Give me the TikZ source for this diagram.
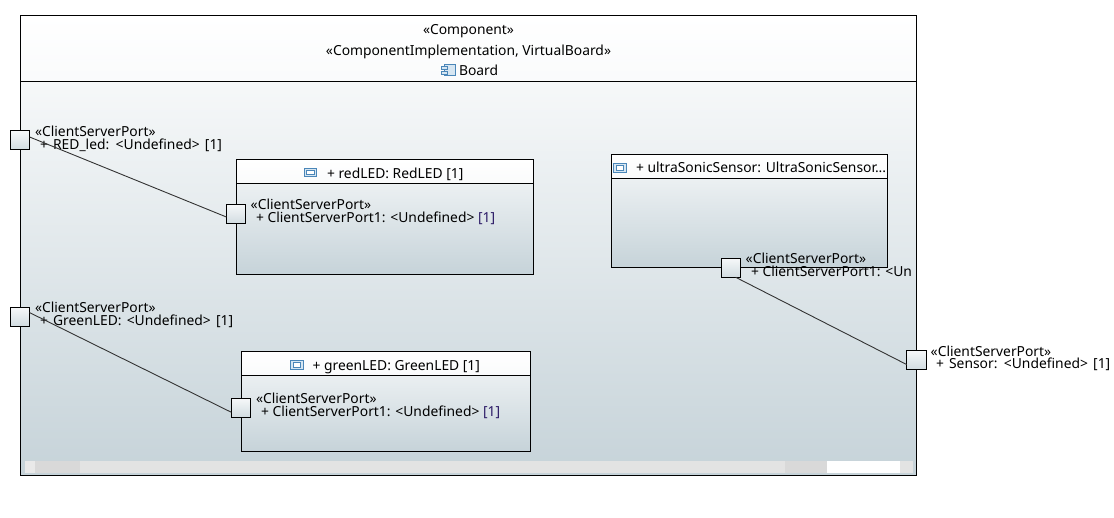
\documentclass[tikz,border=0pt]{standalone}
\usepackage{fontspec}
\setmainfont{Noto Sans}
\definecolor{ink}{HTML}{000000}
\definecolor{wire}{HTML}{333333}
\definecolor{shadeend}{HTML}{C6D3D9}
\definecolor{shadestart}{HTML}{F6F8F9}
\definecolor{iconblue}{HTML}{4A86B8}
\definecolor{iconfill}{HTML}{D6E6F2}
\definecolor{multcolor}{HTML}{2B1A66}
\definecolor{trackmid}{HTML}{E3E3E3}
\definecolor{trackend}{HTML}{E9E9E9}
\definecolor{trackdark}{HTML}{D9D9D9}
\tikzset{
  diagramtext/.style={font=\fontsize{13.85}{15}\selectfont, text=ink, inner sep=0pt, outer sep=0pt},
  lbl/.style={diagramtext, anchor=base west},
  ctr/.style={diagramtext, anchor=base},
  partbox/.style={draw=ink, line width=0.9pt, rectangle, inner sep=0pt, outer sep=0pt,
    anchor=north west, top color=shadestart, bottom color=shadeend},
  headerbox/.style={draw=ink, line width=0.9pt, rectangle, inner sep=0pt, outer sep=0pt,
    anchor=north west, top color=white, bottom color=shadestart!60!white},
  port/.style={draw=ink, line width=0.9pt, rectangle, inner sep=0pt, outer sep=0pt,
    minimum width=19.2pt, minimum height=19pt, top color=shadestart, bottom color=shadeend!80!white},
  wireline/.style={draw=wire, line width=0.9pt},
  particon/.style={draw=iconblue, line width=0.9pt, fill=iconfill},
}
% Small framed-rectangle symbol shown in front of a part title
\newcommand{\parksym}[2]{%
  \draw[particon] (#1,#2) rectangle ++(12.5,8.5);
  \draw[draw=iconblue, line width=0.7pt, fill=white] (#1+2.5,#2+2.2) rectangle ++(7.5,4.2);
}
% Slightly wider word gaps for the shorter port signatures
\newcommand{\widegaps}{\spaceskip=5.2pt plus 1pt\relax}
\begin{document}
\begin{tikzpicture}[x=1pt,y=-1pt]
\useasboundingbox (0,0) rectangle (1114,517);

% Outer component frame
\node[partbox, minimum width=896.5pt, minimum height=394pt] (body) at (20,81) {};
\node[headerbox, minimum width=896.5pt, minimum height=66pt] (head) at (20,15.5) {};

% Header compartment text
\node[ctr] (st1) at (468.5,34.5) {«Component»};
\node[ctr] (st2) at (468.5,55) {«ComponentImplementation, VirtualBoard»};
\node[lbl] (bname) at (459,75.5) {Board};
\draw[draw=iconblue, line width=0.9pt, fill=iconfill] (444,64.5) rectangle (455.5,75.5);
\draw[draw=iconblue, line width=0.9pt, fill=iconfill] (441.5,66.5) rectangle (447,69.5);
\draw[draw=iconblue, line width=0.9pt, fill=iconfill] (441.5,71) rectangle (447,74);

% Scroll bar along the bottom of the frame
\fill[trackmid] (25,461) rectangle (912.5,472.7);
\fill[trackend] (25,461) rectangle (35,472.7);
\fill[trackdark] (35,461) rectangle (80,472.7);
\fill[trackdark] (785,461) rectangle (827,472.7);
\fill[white] (827,461) rectangle (900,472.7);

% Parts
\node[partbox, minimum width=297pt, minimum height=115.2pt] (red) at (236.5,159.3) {};
\node[headerbox, minimum width=297pt, minimum height=24.2pt] (redh) at (236.5,159.3) {};
\parksym{304}{168}
\node[lbl] (redt) at (327,178) {+ redLED: RedLED [1]};

\node[partbox, minimum width=276.2pt, minimum height=113pt] (ultra) at (611.5,154.3) {};
\node[headerbox, minimum width=276.2pt, minimum height=24pt] (ultrah) at (611.5,154.3) {};
\parksym{613.5}{163.5}
\node[lbl] (ultrat) at (636,172.7) {+ ultraSonicSensor: UltraSonicSensor...};

\node[partbox, minimum width=288.7pt, minimum height=100pt] (green) at (241.8,351.3) {};
\node[headerbox, minimum width=288.7pt, minimum height=24pt] (greenh) at (241.8,351.3) {};
\parksym{290.5}{360.5}
\node[lbl] (greent) at (312.5,370) {+ greenLED: GreenLED [1]};

% Ports
\node[port] (pred) at (20,140) {};
\node[port] (pgreen) at (20,316.8) {};
\node[port] (pinred) at (236,214) {};
\node[port] (pingreen) at (241,407.8) {};
\node[port] (pinultra) at (730.7,267.8) {};
\node[port] (psensor) at (916.4,359.8) {};

% Port labels
\node[lbl] (lred1) at (35,136) {«ClientServerPort»};
\node[lbl] (lred2) at (40,149) {\widegaps + RED\_led: <Undefined> [1]};
\node[lbl] (lgreen1) at (35,312.7) {«ClientServerPort»};
\node[lbl] (lgreen2) at (40,325.7) {\widegaps + GreenLED: <Undefined> [1]};
\node[lbl] (linred1) at (250.7,209.5) {«ClientServerPort»};
\node[lbl] (linred2) at (256,222.6) {+ ClientServerPort1: <Undefined> \textcolor{multcolor}{[1]}};
\node[lbl] (lingreen1) at (256,403.3) {«ClientServerPort»};
\node[lbl] (lingreen2) at (261,416.7) {+ ClientServerPort1: <Undefined> \textcolor{multcolor}{[1]}};
\node[lbl] (linultra1) at (745.7,263.3) {«ClientServerPort»};
\begin{scope}
  \clip (745,265) rectangle (911.7,285);
  \node[lbl] (linultra2) at (751,276.7) {+ ClientServerPort1: <Undefined> [1]};
\end{scope}
\node[lbl] (lsensor1) at (930.7,356) {«ClientServerPort»};
\node[lbl] (lsensor2) at (936,368.7) {\widegaps + Sensor: <Undefined> [1]};

% Connectors
\draw[wireline] ([yshift=3pt]pred.east) -- ([yshift=-3pt]pinred.west);
\draw[wireline] ([yshift=4.2pt]pgreen.east) -- ([yshift=-4.5pt]pingreen.west);
\draw[wireline] ([xshift=5pt]pinultra.south) -- ([yshift=-4.8pt]psensor.west);
\end{tikzpicture}
\end{document}
